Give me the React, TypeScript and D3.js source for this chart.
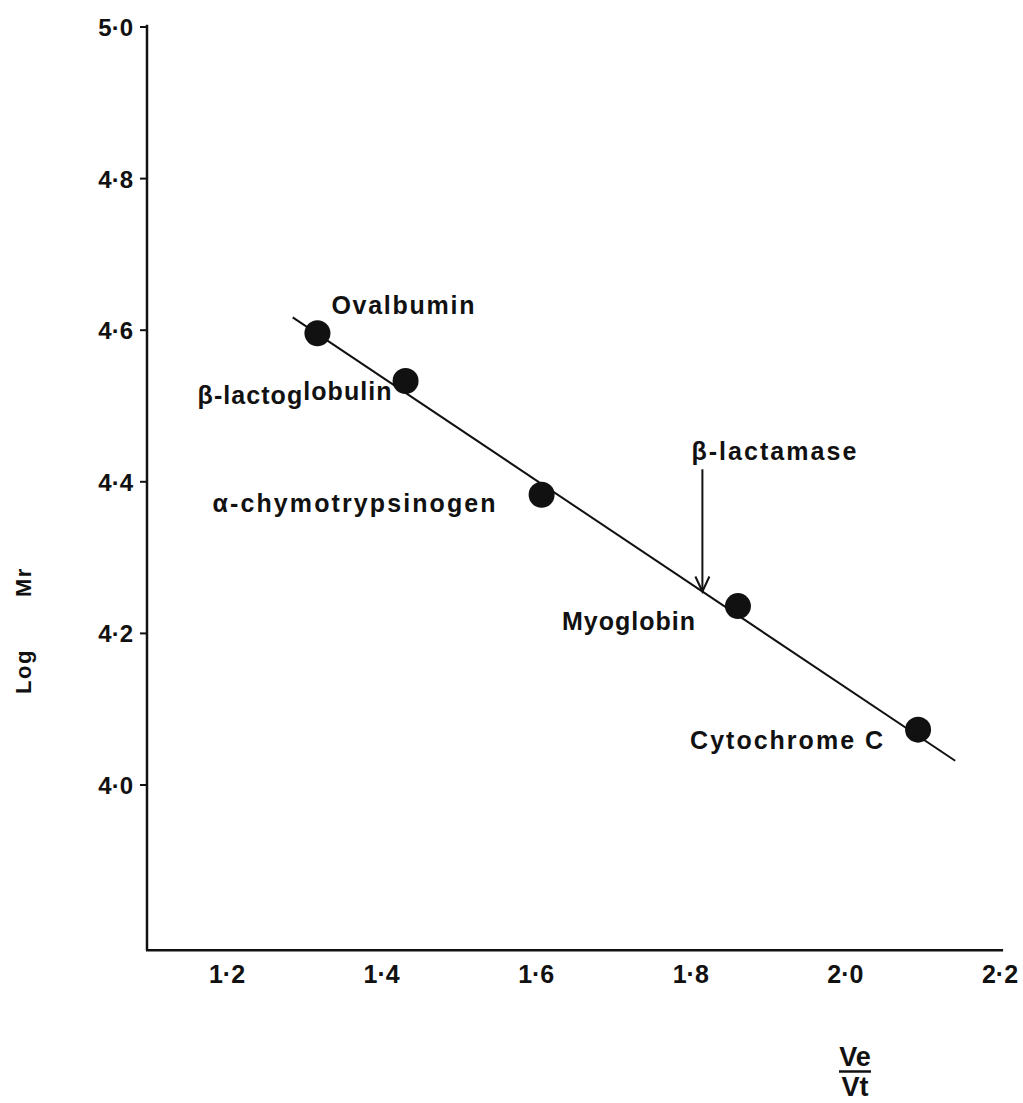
import React from "react";
import * as d3 from "d3";

// Calibration proteins: elution ratio Ve/Vt against log relative molecular mass
const proteins = ["Ovalbumin", "β-lactoglobulin", "α-chymotrypsinogen", "Myoglobin", "Cytochrome C"];
const veVt = [1.317, 1.431, 1.607, 1.861, 2.094];
const logMr = [4.596, 4.533, 4.383, 4.236, 4.073];

// Fitted calibration line end points
const fitVeVt = [1.285, 2.142];
const fitLogMr = [4.617, 4.032];

// Unknown sample
const unknownName = "β-lactamase";
const unknownVeVt = 1.815;
const unknownArrowTop = 4.4165;

// Axes
const xTicks = [1.2, 1.4, 1.6, 1.8, 2.0, 2.2];
const yTicks = [4.0, 4.2, 4.4, 4.6, 4.8, 5.0];
const xAxisExtent = [1.0965, 2.204];
const yAxisExtent = [3.782, 5.003];

// Label placement relative to each dot (px): anchor offset and set width
const labelLayout = [
  { dx: 14, dy: -19, w: 143 },
  { dx: -208, dy: 23, w: 194 },
  { dx: -329, dy: 17, w: 283 },
  { dx: -176, dy: 24, w: 133 },
  { dx: -228, dy: 19, w: 193 },
];

const W = 1023;
const H = 1103;
const INK = "#111";
const FONT = "'Liberation Sans', Arial, Helvetica, sans-serif";

const x = d3.scaleLinear().domain([1.2, 2.2]).range([227, 1000]);
const y = d3.scaleLinear().domain([4.0, 5.0]).range([785, 27]);

const fmt = (v: number) => d3.format(".1f")(v).replace(".", "·");

export default function App() {
  const slope = (fitLogMr[1] - fitLogMr[0]) / (fitVeVt[1] - fitVeVt[0]);
  const lineAt = (v: number) => fitLogMr[0] + slope * (v - fitVeVt[0]);
  const fitPath = d3.line<number>()
    .x((v) => x(v))
    .y((v) => y(lineAt(v)))(fitVeVt) as string;

  const ax = x(unknownVeVt);
  const aTop = y(unknownArrowTop);
  const aTip = y(lineAt(unknownVeVt));

  return (
    <svg
      width={W}
      height={H}
      viewBox={`0 0 ${W} ${H}`}
      style={{ position: "absolute", left: 0, top: 0, background: "#fff" }}
      fontFamily={FONT}
      fontWeight={700}
      fill={INK}
    >
      <rect width={W} height={H} fill="#fff" />

      {/* axes */}
      <line x1={x(xAxisExtent[0])} x2={x(xAxisExtent[0])} y1={y(yAxisExtent[1])} y2={y(yAxisExtent[0])} stroke={INK} strokeWidth={2.5} />
      <line x1={x(xAxisExtent[0]) - 1} x2={x(xAxisExtent[1])} y1={y(yAxisExtent[0])} y2={y(yAxisExtent[0])} stroke={INK} strokeWidth={2.5} />

      {/* y ticks */}
      {yTicks.map((t) => (
        <g key={t}>
          <line x1={x(xAxisExtent[0]) - 7} x2={x(xAxisExtent[0])} y1={y(t)} y2={y(t)} stroke={INK} strokeWidth={2} />
          <text x={133} y={y(t) + 9} textAnchor="end" fontSize={24}>{fmt(t)}</text>
        </g>
      ))}

      {/* x tick labels */}
      {xTicks.map((t) => (
        <text key={t} x={x(t)} y={983} textAnchor="middle" fontSize={25}>{fmt(t)}</text>
      ))}

      {/* axis titles */}
      <g transform="translate(31,0) rotate(-90)" fontSize={22} letterSpacing={1.5}>
        <text x={-694} y={0}>Log</text>
        <text x={-597} y={0}>Mr</text>
      </g>
      <g fontSize={27} textAnchor="middle">
        <text x={855} y={1066}>Ve</text>
        <line x1={839} x2={871} y1={1071.5} y2={1071.5} stroke={INK} strokeWidth={2.5} />
        <text x={855} y={1096}>Vt</text>
      </g>

      {/* calibration line */}
      <path d={fitPath} fill="none" stroke={INK} strokeWidth={2} />

      {/* points */}
      {veVt.map((v, i) => (
        <circle key={proteins[i]} cx={x(v)} cy={y(logMr[i])} r={13} fill={INK} />
      ))}

      {/* point labels */}
      {proteins.map((name, i) => {
        const L = labelLayout[i];
        const px = x(veVt[i]) + L.dx;
        const py = y(logMr[i]) + L.dy;
        if (name === "β-lactoglobulin") {
          return (
            <text key={name} x={px} y={py} fontSize={25} textLength={L.w} lengthAdjust="spacing">
              <tspan>β-lactog</tspan>
              <tspan dy={-4}>lobulin</tspan>
            </text>
          );
        }
        return (
          <text key={name} x={px} y={py} fontSize={25} textLength={L.w} lengthAdjust="spacing">{name}</text>
        );
      })}

      {/* unknown sample arrow */}
      <line x1={ax} x2={ax} y1={aTop} y2={aTip} stroke={INK} strokeWidth={2} />
      <path d={`M${ax - 7},${aTip - 15} L${ax},${aTip} L${ax + 7},${aTip - 15}`} fill="none" stroke={INK} strokeWidth={2} />
      <text x={ax - 11} y={aTop - 9} fontSize={25} textLength={165} lengthAdjust="spacing">{unknownName}</text>
    </svg>
  );
}
